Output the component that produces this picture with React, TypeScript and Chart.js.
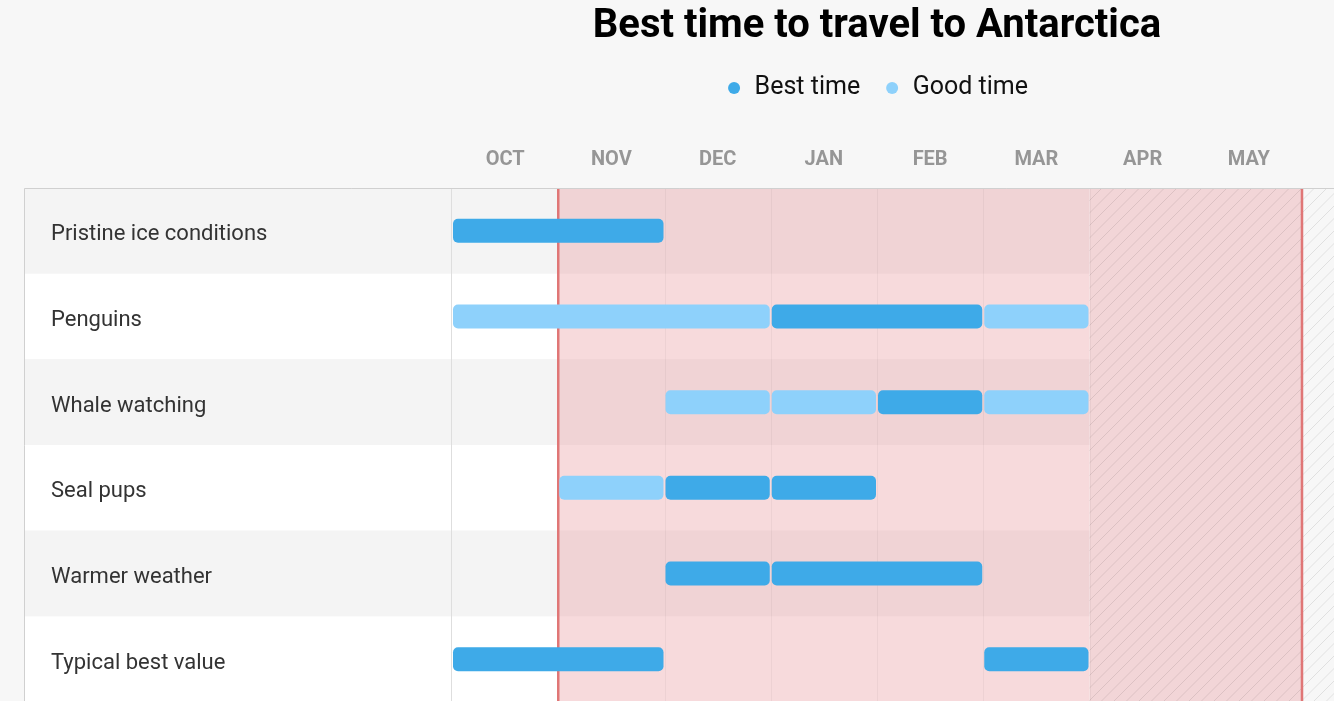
import { useEffect, useRef } from 'react';
import { Chart, registerables } from 'chart.js';

Chart.register(...registerables);

const months = ['OCT', 'NOV', 'DEC', 'JAN', 'FEB', 'MAR', 'APR', 'MAY'];
const activities = [
  'Pristine ice conditions',
  'Penguins',
  'Whale watching',
  'Seal pups',
  'Warmer weather',
  'Typical best value',
];

// [start, end] in months counted from the start of OCT, one list per activity
const bestTime: [number, number][][] = [
  [[0, 2]],
  [[3, 5]],
  [[4, 5]],
  [[2, 3], [3, 4]],
  [[2, 3], [3, 5]],
  [[0, 2], [5, 6]],
];
const goodTime: [number, number][][] = [
  [],
  [[0, 3], [5, 6]],
  [[2, 3], [3, 4], [5, 6]],
  [[1, 2]],
  [],
  [],
];

// travel season (pink) and months without trips (hatched)
const seasonStart = 1;
const seasonEnd = 8;
const hatchStart = 6;

const BEST = '#3eaae8';
const GOOD = '#8ed1fb';

function toDatasets(runs: [number, number][][], label: string, color: string) {
  const n = Math.max(...runs.map((r) => r.length));
  return Array.from({ length: n }, (_, k) => ({
    label,
    data: runs.map((r) => r[k] ?? null),
    backgroundColor: color,
    borderColor: 'rgba(0,0,0,0)',
    borderWidth: 1,
    borderSkipped: false,
    borderRadius: 6,
    barThickness: 26,
    inflateAmount: 0,
    grouped: false,
  }));
}

const backdrop = {
  id: 'backdrop',
  beforeDraw(chart: any) {
    const { ctx, chartArea: a, scales } = chart;
    const x = scales.x;
    const tableLeft = 24;
    const right = chart.width;
    const band = a.height / activities.length;
    ctx.save();

    // row stripes
    activities.forEach((_, i) => {
      ctx.fillStyle = i % 2 === 0 ? '#f4f4f4' : '#ffffff';
      ctx.fillRect(tableLeft, a.top + i * band, a.right - tableLeft, band);
    });

    // season overlay
    const sx = x.getPixelForValue(seasonStart);
    const hx = x.getPixelForValue(hatchStart);
    const ex = x.getPixelForValue(seasonEnd);
    ctx.fillStyle = 'rgba(233,152,158,0.36)';
    ctx.fillRect(sx, a.top, hx - sx, a.height);
    ctx.fillStyle = '#f2d5d7';
    ctx.fillRect(hx, a.top, ex - hx, a.height);
    ctx.fillStyle = '#f7f7f7';
    ctx.fillRect(ex, a.top, right - ex, a.height);

    // hatching
    ctx.save();
    ctx.beginPath();
    ctx.rect(hx, a.top, right - hx, a.height);
    ctx.clip();
    ctx.strokeStyle = 'rgba(0,0,0,0.09)';
    ctx.lineWidth = 1;
    ctx.beginPath();
    for (let s = hx - a.height; s < right; s += 12.5) {
      ctx.moveTo(s, a.bottom);
      ctx.lineTo(s + a.height, a.top);
    }
    ctx.stroke();
    ctx.restore();

    // month grid
    ctx.lineWidth = 1;
    ctx.strokeStyle = 'rgba(0,0,0,0.04)';
    for (let i = seasonStart + 1; i <= hatchStart; i++) {
      const px = Math.round(x.getPixelForValue(i)) + 0.5;
      ctx.beginPath();
      ctx.moveTo(px, a.top);
      ctx.lineTo(px, a.bottom);
      ctx.stroke();
    }
    const x0 = Math.round(x.getPixelForValue(0)) - 0.5;
    ctx.strokeStyle = '#dedede';
    ctx.beginPath();
    ctx.moveTo(x0, a.top);
    ctx.lineTo(x0, a.bottom);
    ctx.stroke();

    // table frame
    ctx.strokeStyle = '#d0d0d0';
    ctx.beginPath();
    ctx.moveTo(tableLeft + 0.5, a.bottom);
    ctx.lineTo(tableLeft + 0.5, a.top + 0.5);
    ctx.lineTo(right, a.top + 0.5);
    ctx.stroke();

    // season edges
    ctx.strokeStyle = '#e07676';
    ctx.lineWidth = 2.5;
    [sx, ex].forEach((px) => {
      ctx.beginPath();
      ctx.moveTo(px, a.top + 1);
      ctx.lineTo(px, a.bottom);
      ctx.stroke();
    });

    ctx.restore();
  },
};

export default function App() {
  const chartRef = useRef<HTMLCanvasElement>(null);
  const chartInstance = useRef<Chart | null>(null);

  useEffect(() => {
    if (!chartRef.current) return;
    if (chartInstance.current) chartInstance.current.destroy();

    chartInstance.current = new Chart(chartRef.current, {
      type: 'bar',
      data: {
        labels: activities,
        datasets: [
          ...toDatasets(bestTime, 'Best time', BEST),
          ...toDatasets(goodTime, 'Good time', GOOD),
        ] as any,
      },
      options: {
        animation: false,
        responsive: false,
        indexAxis: 'y',
        layout: { padding: { left: 51, right: 32, top: 0, bottom: 0 } },
        scales: {
          x: { type: 'linear', min: 0, max: months.length, display: false },
          months: {
            type: 'category',
            axis: 'x',
            position: 'top',
            labels: months,
            offset: true,
            grid: { display: false, drawTicks: false },
            border: { display: false },
            ticks: {
              color: '#969696',
              padding: 16,
              maxRotation: 0,
              autoSkip: false,
              font: { family: 'Roboto', size: 20, weight: 'bold' },
            },
            afterFit: (s: any) => {
              s.height = 77.5;
            },
          },
          y: {
            type: 'category',
            offset: true,
            grid: { display: false },
            border: { display: false },
            ticks: {
              crossAlign: 'far',
              color: '#333',
              padding: 0,
              labelOffset: 4,
              autoSkip: false,
              font: { family: 'Roboto', size: 22 },
            },
            afterFit: (s: any) => {
              s.width = 401;
              s.paddingTop = 0;
              s.paddingBottom = 0;
            },
          },
        } as any,
        plugins: {
          title: {
            display: true,
            text: 'Best time to travel to Antarctica',
            fullSize: false,
            color: '#000',
            font: { family: 'Roboto', size: 40, weight: 'bold' },
            padding: { top: 2.5, bottom: 1 },
          },
          legend: {
            fullSize: false,
            labels: {
              usePointStyle: true,
              pointStyle: 'circle',
              boxWidth: 16,
              boxHeight: 8.5,
              padding: 24,
              color: '#111',
              font: { family: 'Roboto', size: 25 },
              filter: (item: any, data: any) =>
                data.datasets.findIndex((d: any) => d.label === item.text) === item.datasetIndex,
            },
          },
          tooltip: { enabled: false },
        },
      },
      plugins: [backdrop],
    });

    return () => {
      if (chartInstance.current) {
        chartInstance.current.destroy();
        chartInstance.current = null;
      }
    };
  }, []);

  return (
    <div style={{ position: 'fixed', inset: 0, background: '#f7f7f7', overflow: 'hidden' }}>
      <canvas ref={chartRef} width={1334} height={702} style={{ display: 'block' }} />
    </div>
  );
}
